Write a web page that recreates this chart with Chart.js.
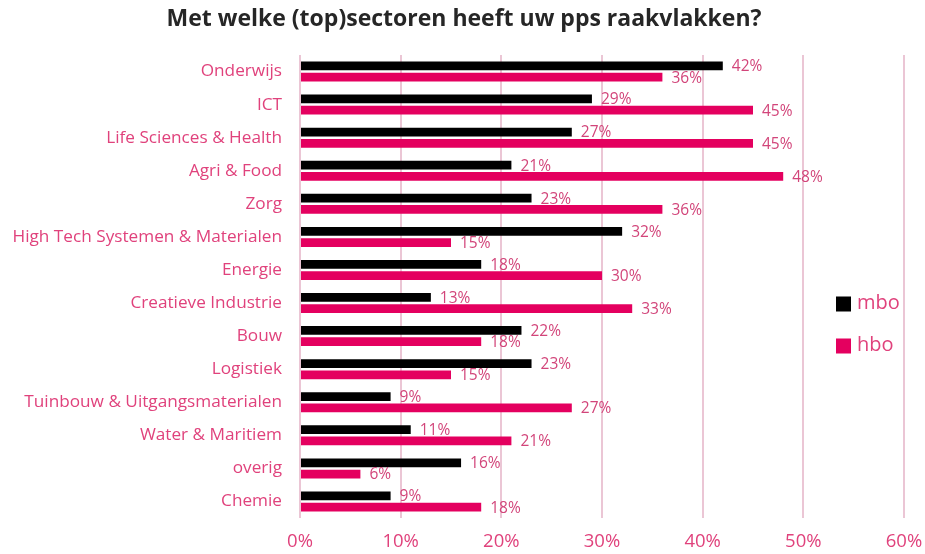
<!DOCTYPE html>
<html>
<head>
<meta charset="utf-8">
<script src="https://cdn.jsdelivr.net/npm/chart.js@4"></script>
<style>
  html, body { margin: 0; padding: 0; background: #fff; }
  #wrap { width: 925px; height: 554px; }
</style>
</head>
<body>
<div id="wrap"><canvas id="chart-sectoren" width="925" height="554"></canvas></div>
<script>
const sectoren = ['Onderwijs', 'ICT', 'Life Sciences & Health', 'Agri & Food', 'Zorg',
  'High Tech Systemen & Materialen', 'Energie', 'Creatieve Industrie', 'Bouw', 'Logistiek',
  'Tuinbouw & Uitgangsmaterialen', 'Water & Maritiem', 'overig', 'Chemie'];
const mbo = [42, 29, 27, 21, 23, 32, 18, 13, 22, 23, 9, 11, 16, 9];
const hbo = [36, 45, 45, 48, 36, 15, 30, 33, 18, 15, 27, 21, 6, 18];
const xTicks = [0, 10, 20, 30, 40, 50, 60];

const roze = '#e4005f';
const tekstRoze = '#e0427c';
const labelRoze = '#d2457a';
const fontNaam = '"Open Sans", Lato, sans-serif';

// waarden naast de balken
const waardeLabels = {
  id: 'waardeLabels',
  afterDatasetsDraw(chart) {
    const ctx = chart.ctx;
    ctx.save();
    ctx.font = '15.5px ' + fontNaam;
    ctx.fillStyle = labelRoze;
    ctx.textBaseline = 'middle';
    ctx.textAlign = 'left';
    chart.data.datasets.forEach((ds, i) => {
      chart.getDatasetMeta(i).data.forEach((bar, j) => {
        ctx.fillText(ds.data[j] + '%', bar.x + 9, bar.y + 1);
      });
    });
    ctx.restore();
  }
};

// titel en legenda zelf tekenen
const titelEnLegenda = {
  id: 'titelEnLegenda',
  afterDraw(chart) {
    const ctx = chart.ctx;
    const area = chart.chartArea;
    ctx.save();
    ctx.font = 'bold 23px ' + fontNaam;
    ctx.fillStyle = '#262626';
    ctx.textAlign = 'center';
    ctx.textBaseline = 'middle';
    ctx.fillText('Met welke (top)sectoren heeft uw pps raakvlakken?', 464, 19);

    ctx.font = '20px ' + fontNaam;
    ctx.textAlign = 'left';
    const midY = (area.top + area.bottom) / 2;
    chart.data.datasets.forEach((ds, i) => {
      const y = midY + 17 + i * 42;
      ctx.fillStyle = ds.backgroundColor;
      ctx.fillRect(836, y - 7, 15, 15);
      ctx.fillStyle = tekstRoze;
      ctx.fillText(ds.label, 857, y);
    });
    ctx.restore();
  }
};

new Chart(document.getElementById('chart-sectoren').getContext('2d'), {
  type: 'bar',
  data: {
    labels: sectoren,
    datasets: [
      { label: 'mbo', data: mbo, backgroundColor: '#000000' },
      { label: 'hbo', data: hbo, backgroundColor: roze }
    ]
  },
  options: {
    indexAxis: 'y',
    responsive: false,
    animation: false,
    layout: { padding: { top: 55, right: 21, bottom: 0, left: 0 } },
    datasets: {
      bar: { categoryPercentage: 0.68, barPercentage: 0.78 }
    },
    plugins: {
      legend: { display: false },
      title: { display: false },
      tooltip: { enabled: false }
    },
    scales: {
      x: {
        min: 0,
        max: 60,
        afterBuildTicks(axis) { axis.ticks = xTicks.map(v => ({ value: v })); },
        afterFit(axis) {
          axis.height = 36;
          axis.paddingLeft = 0;
          axis.paddingRight = 0;
        },
        grid: { color: '#ebc6d5', lineWidth: 2, drawTicks: false },
        border: { display: false },
        ticks: {
          padding: 13,
          color: tekstRoze,
          font: { family: fontNaam, size: 18.5 },
          callback: v => v + '%'
        }
      },
      y: {
        afterFit(axis) { axis.width = 300; },
        grid: { display: false },
        border: { display: false },
        ticks: {
          padding: 10,
          color: tekstRoze,
          font: { family: fontNaam, size: 17.2 }
        }
      }
    }
  },
  plugins: [waardeLabels, titelEnLegenda]
});
</script>
</body>
</html>
